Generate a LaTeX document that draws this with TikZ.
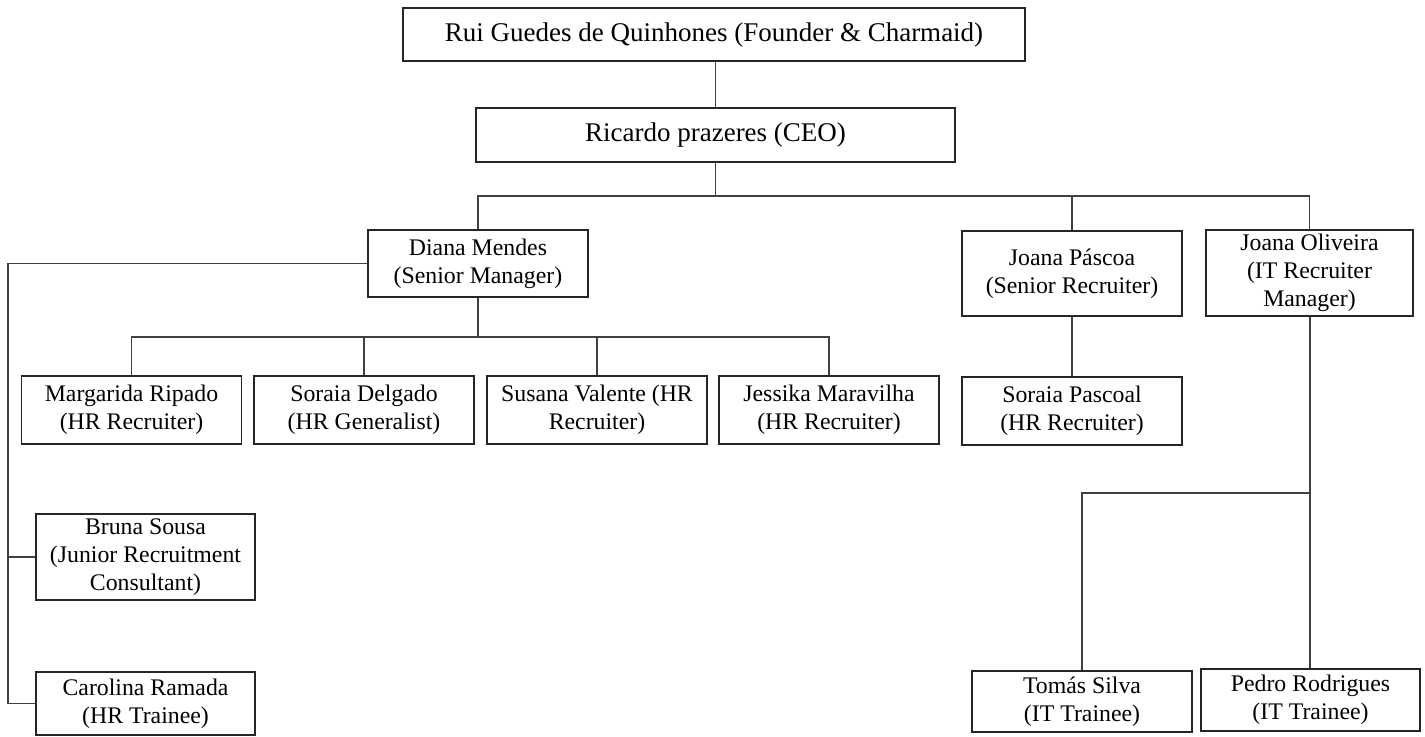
\documentclass[tikz,border=0pt]{standalone}
\usepackage{fontspec}
\setmainfont{Liberation Serif}
\usetikzlibrary{positioning}
\tikzset{
  person/.style={draw=black!85,fill=white,line width=0.6pt,minimum width=110pt,minimum height=34pt,align=center,inner sep=1pt,font=\fontsize{11.9}{14}\selectfont},
  head/.style={person,font=\fontsize{13.5}{16}\selectfont},
  link/.style={draw=black!75,line width=0.6pt}
}

\begin{document}
\begin{tikzpicture}[x=0.5pt,y=-0.5pt]
  \useasboundingbox (0,0) rectangle (1425,736);
  \node[head,minimum width=311pt,minimum height=26.5pt] (founder) at (714,34.5) {Rui Guedes de Quinhones (Founder \& Charmaid)};
  \node[head,minimum width=239.5pt,minimum height=27pt] (ceo) at (715.5,135) {Ricardo prazeres (CEO)};

  \node[person,minimum height=33.5pt] (diana) at (478,263.5) {Diana Mendes\\(Senior Manager)};
  \node[person,minimum height=42.5pt] (pascoa) at (1072,273.5) {Joana Páscoa\\(Senior Recruiter)};
  \node[person,minimum width=103.5pt,minimum height=43pt] (oliveira) at (1309.5,273) {Joana Oliveira\\(IT Recruiter\\Manager)};

  \node[person] (margarida) at (131.5,410) {Margarida Ripado\\(HR Recruiter)};
  \node[person] (soraiaD) at (364,410) {Soraia Delgado\\(HR Generalist)};
  \node[person] (susana) at (597,410) {Susana Valente (HR\\Recruiter)};
  \node[person] (jessika) at (829,410) {Jessika Maravilha\\(HR Recruiter)};
  \node[person] (pascoal) at (1072,411) {Soraia Pascoal\\(HR Recruiter)};

  \node[person,minimum width=109.5pt,minimum height=43pt] (bruna) at (145.5,557) {Bruna Sousa\\(Junior Recruitment\\Consultant)};
  \node[person,minimum width=109.5pt,minimum height=31.5pt] (carolina) at (145.5,703.5) {Carolina Ramada\\(HR Trainee)};

  \node[person,minimum height=30.5pt] (tomas) at (1082,701.5) {Tomás Silva\\(IT Trainee)};
  \node[person,minimum width=109.5pt,minimum height=31pt] (pedro) at (1310.5,700) {Pedro Rodrigues\\(IT Trainee)};

  \coordinate (topbus) at (715.5,196);
  \coordinate (dianabus) at (478,337);
  \coordinate (spine) at (8,263.5);
  \coordinate (itbus) at (1310,493);

  \draw[link] (founder.south -| ceo.north) -- (ceo.north);
  \foreach \n in {diana,pascoa,oliveira}
    \draw[link] (ceo.south) -- (topbus) -| (\n.north);
  \foreach \n in {margarida,soraiaD,susana,jessika}
    \draw[link] (diana.south) -- (dianabus) -| (\n.north);
  \draw[link] (diana.west) -- (spine) |- (carolina.west);
  \draw[link] (spine |- bruna.west) -- (bruna.west);
  \draw[link] (pascoa.south) -- (pascoal.north);
  \draw[link] (oliveira.south -| itbus) -- (itbus |- pedro.north);
  \draw[link] (itbus) -| (tomas.north);
\end{tikzpicture}
\end{document}
